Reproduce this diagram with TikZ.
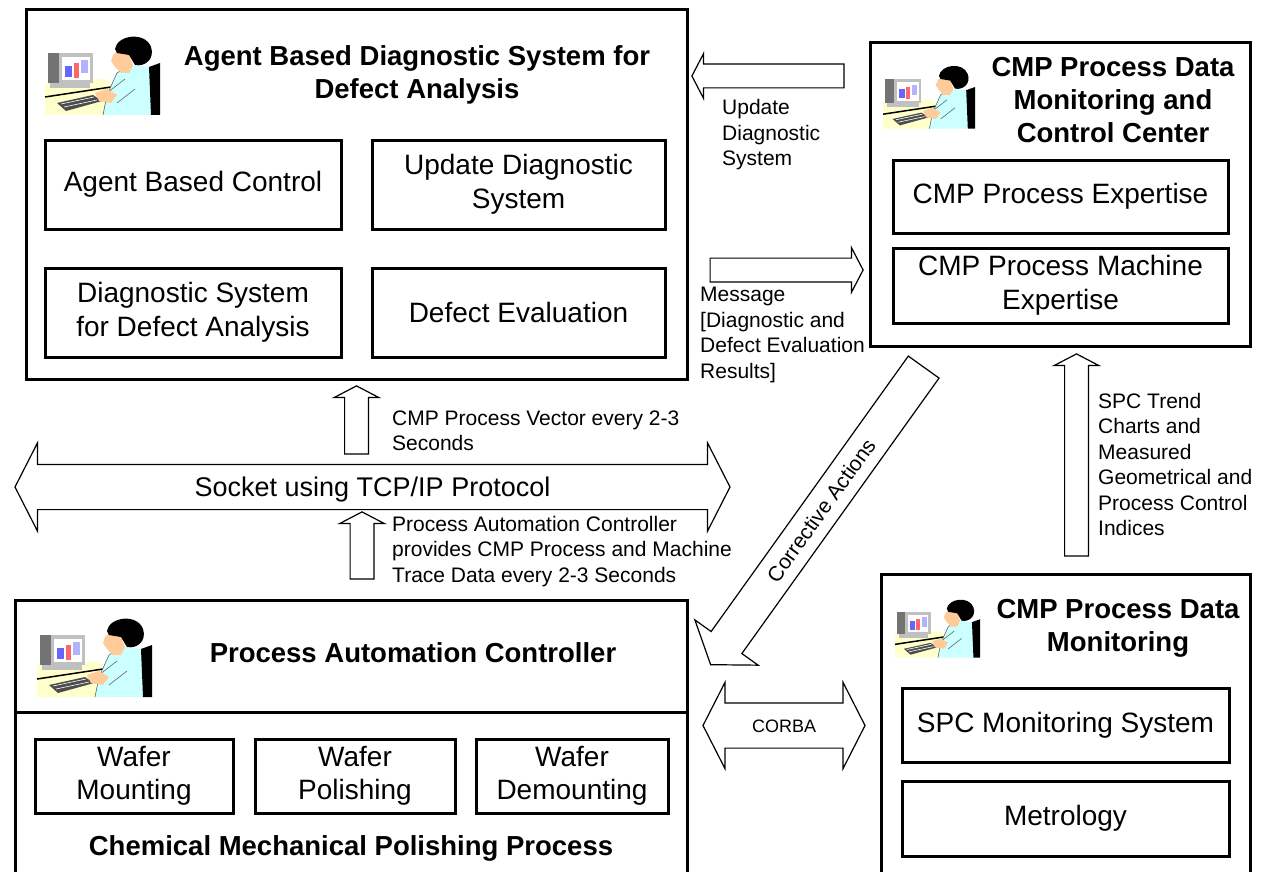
\documentclass[tikz,border=0pt]{standalone}
\usepackage{fontspec}
\setmainfont{Liberation Sans}
\usetikzlibrary{shapes.arrows}

\definecolor{deskyellow}{HTML}{FFFFCC}
\definecolor{shirtcyan}{HTML}{CCFFFF}
\definecolor{skintone}{HTML}{FFCC99}
\definecolor{monitorgray}{HTML}{C0C0C0}

\tikzset{
  % little operator at his workstation, 115 x 82 from its top left corner
  operator/.pic={
    \fill[deskyellow] (0,50) -- (60,46) -- (70,54) -- (78,82) -- (0,82) -- cycle;
    \fill[monitorgray] (5,47) rectangle (45,55);
    \fill[monitorgray] (3,20) rectangle (48,50);
    \fill[black!55] (3,20) rectangle (14,50);
    \fill[white] (17,24) rectangle (45,47);
    \fill[blue!60] (20,33) rectangle (27,44);
    \fill[red!60] (29,30) rectangle (34,45);
    \fill[blue!30] (36,27) rectangle (43,40);
    \draw[line width=1.5pt] (0,64) -- (66,54);
    \fill[black!70] (12,70) -- (48,62) -- (57,68) -- (21,78) -- cycle;
    \draw[white, line width=0.6pt] (16,71) -- (49,64) (19,74) -- (52,67);
    \fill[shirtcyan] (58,82) -- (62,62) -- (72,40) -- (85,32) -- (104,34) -- (110,50) -- (108,82) -- cycle;
    \draw[black!60, line width=0.6pt] (58,82) -- (62,62) -- (72,40) -- (85,32);
    \fill[black] (104,34) -- (115,30) -- (115,82) -- (106,82) -- cycle;
    \fill[shirtcyan] (62,60) -- (80,46) -- (90,56) -- (72,70) -- cycle;
    \draw[black!60, line width=0.6pt] (62,60) -- (80,46) (90,56) -- (72,70);
    \fill[skintone] (50,60) -- (62,56) -- (72,62) -- (66,70) -- (54,68) -- cycle;
    \fill[skintone] (72,18) -- (84,22) -- (88,32) -- (84,40) -- (76,40) -- (70,34) -- (66,28) -- (68,22) -- cycle;
    \fill[black] (70,16) .. controls (72,2) and (100,-2) .. (106,14)
      .. controls (110,26) and (100,34) .. (90,32) -- (84,22) -- (72,20) -- cycle;
  },
  sysbox/.style={draw, line width=3pt, inner sep=0pt},
  modbox/.style={draw, line width=3pt, inner sep=0pt, align=center,
    font=\fontsize{28}{33.5}\selectfont},
  boxtitle/.style={align=center, inner sep=0pt, font=\fontsize{27.5}{33}\selectfont\bfseries},
  note/.style={align=left, anchor=west, inner sep=0pt, font=\fontsize{21}{25.5}\selectfont},
  % body is set by text box and inner sep, head by the extend
  blockarrow/.style={draw, line width=1.2pt, single arrow, inner xsep=0pt, inner ysep=11.3pt,
    text height=0pt, text depth=0pt, single arrow head extend=10.5pt, single arrow tip angle=125},
  uparrow/.style={blockarrow, shape border rotate=90, inner xsep=11.3pt, inner ysep=0pt},
  busarrow/.style={draw, line width=1.2pt, double arrow, inner xsep=0pt,
    text depth=0pt, double arrow tip angle=126}
}

\begin{document}
\begin{tikzpicture}[x=1pt, y=-1pt]
\useasboundingbox (0,0) rectangle (1268,872);

% diagnostic system
\node[sysbox, minimum width=661pt, minimum height=369pt] (diag) at (356.5,194.5) {};
\pic at (45,33) {operator};
\node[boxtitle] (diagtitle) at (417,75) {Agent Based Diagnostic System for\\Defect Analysis};
\node[modbox, minimum width=296pt, minimum height=89pt] (agent) at (193,184.5) {Agent Based Control};
\node[modbox, minimum width=293pt, minimum height=89pt] (update) at (518.5,184.5) {Update Diagnostic\\System};
\node[modbox, minimum width=296pt, minimum height=89pt] (diagsys) at (193,312.5) {Diagnostic System\\for Defect Analysis};
\node[modbox, minimum width=293pt, minimum height=89pt] (defect) at (518.5,312.5) {Defect Evaluation};

% monitoring and control center
\node[sysbox, minimum width=380pt, minimum height=303pt] (center) at (1060,194.5) {};
\pic[scale=0.8] at (883,63) {operator};
\node[boxtitle] (centertitle) at (1113,100) {CMP Process Data\\Monitoring and\\Control Center};
\node[modbox, minimum width=335pt, minimum height=73pt] (procexp) at (1060.5,196.5) {CMP Process Expertise};
\node[modbox, minimum width=335pt, minimum height=75pt] (machexp) at (1060.5,285.5) {CMP Process Machine\\Expertise};

% automation controller on top of the polishing process
\node[sysbox, minimum width=672pt, minimum height=112pt] (pac) at (351,656) {};
\node[sysbox, minimum width=672pt, minimum height=190pt] (cmp) at (351,807) {};
\pic at (37,615) {operator};
\node[boxtitle] (pactitle) at (413,653) {Process Automation Controller};
\node[modbox, minimum width=198pt, minimum height=74pt] (mount) at (134,776) {Wafer\\Mounting};
\node[modbox, minimum width=200pt, minimum height=74pt] (polish) at (355,776) {Wafer\\Polishing};
\node[modbox, minimum width=192pt, minimum height=74pt] (demount) at (572,776) {Wafer\\Demounting};
\node[boxtitle] (cmptitle) at (351,848) {Chemical Mechanical Polishing Process};

% data monitoring
\node[sysbox, minimum width=369pt, minimum height=330pt] (monitor) at (1065.5,739) {};
\pic[scale=0.74] at (895,597) {operator};
\node[boxtitle] (monitortitle) at (1118,628) {CMP Process Data\\Monitoring};
\node[modbox, minimum width=327pt, minimum height=74pt] (spcsys) at (1065.5,725) {SPC Monitoring System};
\node[modbox, minimum width=327pt, minimum height=75pt] (metro) at (1065.5,818.5) {Metrology};

% messages between the systems
\node[blockarrow, shape border rotate=180, minimum height=152pt] (updarrow) at (771,76) {};
\node[note] (updnote) at (722,135) {Update\\Diagnostic\\System};
\node[blockarrow, minimum height=153pt] (msgarrow) at (783.5,270) {};
\node[note] (msgnote) at (700,335) {Message\\{[}Diagnostic and\\Defect Evaluation\\Results{]}};

\node[uparrow, minimum height=68pt] (vecarrow) at (356.5,423) {};
\node[note] (vecnote) at (392,431) {CMP Process Vector every 2-3\\Seconds};
\node[busarrow, minimum height=715pt, text height=19pt, inner ysep=12.5pt,
  double arrow head extend=21.5pt, font=\fontsize{27}{32}\selectfont] (socket) at (372.5,487) {Socket using TCP/IP Protocol};
\node[uparrow, minimum height=67pt] (tracearrow) at (362,548.5) {};
\node[note] (tracenote) at (392,551.5) {Process Automation Controller\\provides CMP Process and Machine\\Trace Data every 2-3 Seconds};

\node[uparrow, minimum height=202pt] (spcarrow) at (1076.5,458) {};
\node[note] (spcnote) at (1098,464.5) {SPC Trend\\Charts and\\Measured\\Geometrical and\\Process Control\\Indices};

\node[blockarrow, rotate=54.4, shape border rotate=180, minimum height=366pt,
  text height=15pt, inner ysep=10.8pt, single arrow head extend=20pt, single arrow tip angle=110,
  font=\fontsize{21}{25}\selectfont] (corrective) at (821,510.5) {Corrective Actions};
\node[busarrow, minimum height=162pt, text height=13pt, inner ysep=15.5pt,
  double arrow head extend=20.5pt, font=\fontsize{18}{22}\selectfont] (corba) at (784,725.5) {CORBA};
\end{tikzpicture}
\end{document}
